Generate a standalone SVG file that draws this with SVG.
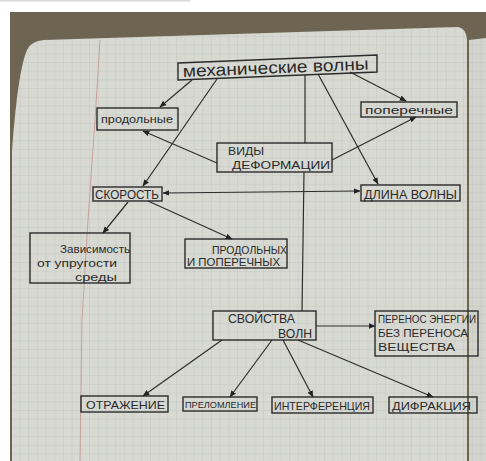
<svg xmlns="http://www.w3.org/2000/svg" width="486" height="461" viewBox="0 0 486 461">
<defs>
<pattern id="grid" width="8.7" height="8.7" patternUnits="userSpaceOnUse" x="3" y="2">
<path d="M8.7 0V8.7M0 8.7H8.7" fill="none" stroke="#bcc1bc" stroke-width="0.7"/>
</pattern>
<marker id="arr" viewBox="0 0 10 10" refX="9" refY="5" markerWidth="7" markerHeight="7" markerUnits="userSpaceOnUse" orient="auto-start-reverse">
<path d="M0 1L10 5L0 9Z" fill="#222"/>
</marker>
<style>
.box{fill:none;stroke:#2b2b2b;stroke-width:1.4}
.t{font-family:"Liberation Sans","DejaVu Sans",sans-serif;fill:#2a2a2a}
.c{fill:none;stroke:#2e2e2e;stroke-width:1.2}
</style>
</defs>
<rect width="486" height="461" fill="#ffffff"/>
<rect x="0" y="0" width="190" height="1.5" fill="#d8d8d8"/>
<rect x="10" y="12" width="476" height="449" fill="#6d6552"/>
<path d="M12 461L12 150Q18 70 27 50Q31 41 44 40L458 27Q466 28 467 40L467 461Z" fill="#d7d9d2"/>
<path d="M12 461L12 150Q18 70 27 50Q31 41 44 40L458 27Q466 28 467 40L467 461Z" fill="url(#grid)"/>
<path d="M469 40L486 38L486 461L469 461Z" fill="#d2d4cd"/>
<path d="M469 40L486 38L486 461L469 461Z" fill="url(#grid)"/>
<polyline points="100,40 95,120 88,220 82,320 80,461" fill="none" stroke="#c79a96" stroke-width="0.9"/>

<g id="connectors">
<line class="c" x1="192" y1="80" x2="160" y2="107" marker-end="url(#arr)"/>
<line class="c" x1="217" y1="79" x2="143" y2="186" marker-end="url(#arr)"/>
<line class="c" x1="305" y1="75" x2="305" y2="143"/>
<line class="c" x1="304" y1="172" x2="302" y2="311"/>
<line class="c" x1="318" y1="74" x2="378" y2="184" marker-end="url(#arr)"/>
<line class="c" x1="350" y1="72" x2="406" y2="101" marker-end="url(#arr)"/>
<line class="c" x1="217" y1="163" x2="143" y2="131" marker-end="url(#arr)"/>
<line class="c" x1="332" y1="160" x2="416" y2="117" marker-end="url(#arr)"/>
<line class="c" x1="163" y1="193" x2="360" y2="191" marker-start="url(#arr)" marker-end="url(#arr)"/>
<line class="c" x1="128" y1="202" x2="103" y2="233" marker-end="url(#arr)"/>
<line class="c" x1="148" y1="201" x2="232" y2="239" marker-end="url(#arr)"/>
<line class="c" x1="316" y1="326" x2="375" y2="326" marker-end="url(#arr)"/>
<line class="c" x1="222" y1="340" x2="143" y2="396" marker-end="url(#arr)"/>
<line class="c" x1="272" y1="340" x2="230" y2="397" marker-end="url(#arr)"/>
<line class="c" x1="283" y1="340" x2="313" y2="397" marker-end="url(#arr)"/>
<line class="c" x1="298" y1="340" x2="433" y2="397" marker-end="url(#arr)"/>
</g>

<g id="n-mech">
<polygon class="box" points="178,63 377,55 377,72 178,80"/>
<text class="t" x="183" y="77" font-size="17" textLength="186" lengthAdjust="spacingAndGlyphs" transform="rotate(-2.3 183 77)">механические  волны</text>
</g>
<g id="n-prod">
<rect class="box" x="97" y="108" width="81" height="22"/>
<text class="t" x="101" y="123" font-size="11" textLength="72" lengthAdjust="spacingAndGlyphs">продольные</text>
</g>
<g id="n-poper">
<rect class="box" x="361" y="102" width="96" height="15"/>
<text class="t" x="365" y="114" font-size="11" textLength="88" lengthAdjust="spacingAndGlyphs">поперечные</text>
</g>
<g id="n-vidy">
<rect class="box" x="217" y="143" width="115" height="29"/>
<text class="t" x="228" y="155" font-size="11.5" textLength="36" lengthAdjust="spacingAndGlyphs">ВИДЫ</text>
<text class="t" x="232" y="169" font-size="11.5" textLength="98" lengthAdjust="spacingAndGlyphs">ДЕФОРМАЦИИ</text>
</g>
<g id="n-speed">
<rect class="box" x="93" y="187" width="69" height="14"/>
<text class="t" x="95" y="199" font-size="12" textLength="64" lengthAdjust="spacingAndGlyphs">СКОРОСТЬ</text>
</g>
<g id="n-length">
<rect class="box" x="361" y="185" width="99" height="16"/>
<text class="t" x="364" y="199" font-size="12" textLength="93" lengthAdjust="spacingAndGlyphs">ДЛИНА ВОЛНЫ</text>
</g>
<g id="n-dep">
<rect class="box" x="30" y="233" width="100" height="50"/>
<text class="t" x="60" y="253" font-size="11" textLength="70" lengthAdjust="spacingAndGlyphs">Зависимость</text>
<text class="t" x="37" y="267" font-size="11" textLength="80" lengthAdjust="spacingAndGlyphs">от упругости</text>
<text class="t" x="75" y="281" font-size="11" textLength="42" lengthAdjust="spacingAndGlyphs">среды</text>
</g>
<g id="n-prodpop">
<rect class="box" x="185" y="239" width="102" height="29"/>
<text class="t" x="212" y="254" font-size="11" textLength="75" lengthAdjust="spacingAndGlyphs">ПРОДОЛЬНЫХ</text>
<text class="t" x="187" y="266" font-size="11" textLength="93" lengthAdjust="spacingAndGlyphs">И ПОПЕРЕЧНЫХ</text>
</g>
<g id="n-props">
<rect class="box" x="213" y="311" width="103" height="29"/>
<text class="t" x="228" y="323" font-size="12" textLength="67" lengthAdjust="spacingAndGlyphs">СВОЙСТВА</text>
<text class="t" x="278" y="338" font-size="12" textLength="34" lengthAdjust="spacingAndGlyphs">ВОЛН</text>
</g>
<g id="n-transfer">
<rect class="box" x="375" y="311" width="103" height="45"/>
<text class="t" x="378" y="323" font-size="10" textLength="98" lengthAdjust="spacingAndGlyphs">ПЕРЕНОС ЭНЕРГИИ</text>
<text class="t" x="378" y="337" font-size="10" textLength="90" lengthAdjust="spacingAndGlyphs">БЕЗ ПЕРЕНОСА</text>
<text class="t" x="378" y="351" font-size="10" textLength="77" lengthAdjust="spacingAndGlyphs">ВЕЩЕСТВА</text>
</g>
<g id="n-refl">
<rect class="box" x="81" y="396" width="87" height="16"/>
<text class="t" x="86" y="409" font-size="11" textLength="79" lengthAdjust="spacingAndGlyphs">ОТРАЖЕНИЕ</text>
</g>
<g id="n-refr">
<rect class="box" x="183" y="397" width="74" height="14"/>
<text class="t" x="185" y="408" font-size="9" textLength="71" lengthAdjust="spacingAndGlyphs">ПРЕЛОМЛЕНИЕ</text>
</g>
<g id="n-interf">
<rect class="box" x="272" y="397" width="101" height="16"/>
<text class="t" x="274" y="410" font-size="10.5" textLength="96" lengthAdjust="spacingAndGlyphs">ИНТЕРФЕРЕНЦИЯ</text>
</g>
<g id="n-diffr">
<rect class="box" x="389" y="397" width="88" height="16"/>
<text class="t" x="392" y="410" font-size="11" textLength="79" lengthAdjust="spacingAndGlyphs">ДИФРАКЦИЯ</text>
</g>
</svg>
